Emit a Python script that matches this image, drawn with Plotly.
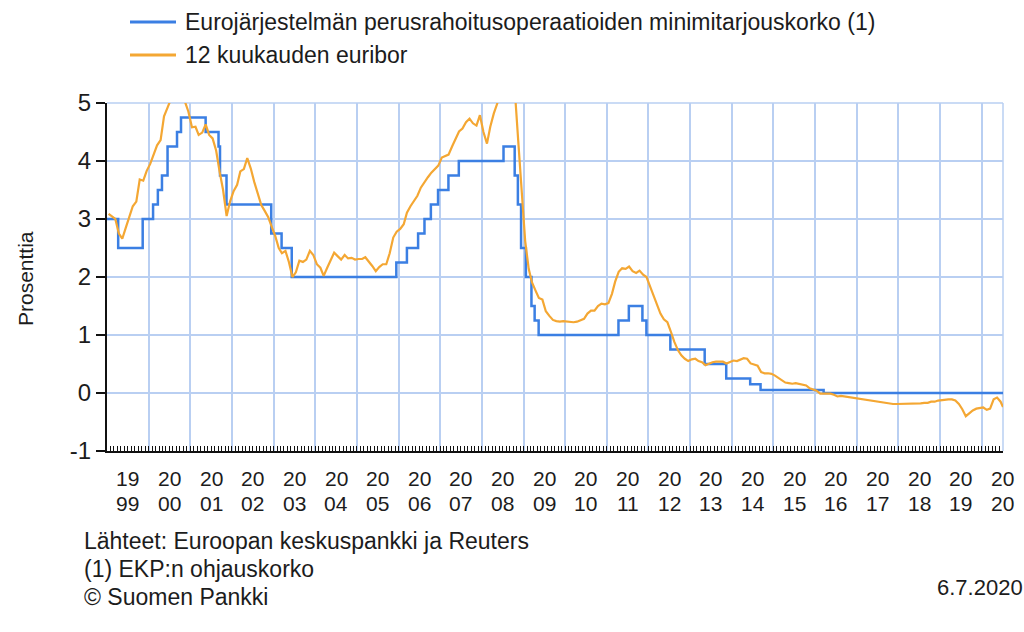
import plotly.graph_objects as go

# ---------------- data ----------------
rate_dates = ["1999-01-01", "1999-04-09", "1999-11-10", "2000-02-09", "2000-03-22", "2000-04-27",
              "2000-06-15", "2000-09-06", "2000-10-11", "2001-05-15", "2001-09-05", "2001-09-18",
              "2001-11-14", "2002-12-11", "2003-03-12", "2003-06-09", "2005-12-12", "2006-03-15",
              "2006-06-21", "2006-08-16", "2006-10-11", "2006-12-13", "2007-03-14", "2007-06-13",
              "2008-07-09", "2008-10-15", "2008-11-12", "2008-12-10", "2009-01-21", "2009-03-11",
              "2009-04-08", "2009-05-13", "2011-04-13", "2011-07-13", "2011-11-09", "2011-12-14",
              "2012-07-11", "2013-05-08", "2013-11-13", "2014-06-11", "2014-09-10", "2016-03-16",
              "2020-07-06"]
rate_values = [3.0, 2.5, 3.0, 3.25, 3.5, 3.75,
               4.25, 4.5, 4.75, 4.5, 4.25, 3.75,
               3.25, 2.75, 2.5, 2.0, 2.25, 2.5,
               2.75, 3.0, 3.25, 3.5, 3.75, 4.0,
               4.25, 3.75, 3.25, 2.5, 2.0, 1.5,
               1.25, 1.0, 1.25, 1.5, 1.25, 1.0,
               0.75, 0.5, 0.25, 0.15, 0.05, 0.0,
               0.0]

# 12-month Euribor, monthly readings (mid-month), Jan 1999 .. Jun 2020, plus last day
euribor_values = [
    3.09, 3.05, 3.00, 2.75, 2.66, 2.85, 3.03, 3.22, 3.30, 3.68, 3.66, 3.83,        # 1999
    3.95, 4.11, 4.27, 4.36, 4.77, 4.92, 5.08, 5.22, 5.22, 5.10, 5.02, 4.85,        # 2000
    4.58, 4.59, 4.45, 4.49, 4.63, 4.45, 4.39, 4.18, 3.81, 3.50, 3.05, 3.30,        # 2001
    3.48, 3.59, 3.82, 3.86, 4.05, 3.87, 3.64, 3.44, 3.24, 3.14, 3.03, 2.87,        # 2002
    2.71, 2.50, 2.41, 2.45, 2.26, 2.00, 2.08, 2.28, 2.26, 2.30, 2.45, 2.38,        # 2003
    2.22, 2.16, 2.02, 2.16, 2.30, 2.42, 2.36, 2.30, 2.38, 2.32, 2.33, 2.30,        # 2004
    2.31, 2.31, 2.34, 2.27, 2.19, 2.10, 2.17, 2.22, 2.22, 2.41, 2.68, 2.78,        # 2005
    2.83, 2.91, 3.11, 3.22, 3.31, 3.40, 3.54, 3.62, 3.72, 3.80, 3.86, 3.92,        # 2006
    4.06, 4.09, 4.11, 4.25, 4.37, 4.51, 4.56, 4.67, 4.73, 4.65, 4.61, 4.79,        # 2007
    4.50, 4.30, 4.59, 4.82, 4.99, 5.36, 5.39, 5.32, 5.38, 5.25, 4.35, 3.45,        # 2008
    2.62, 2.14, 1.91, 1.77, 1.64, 1.61, 1.41, 1.33, 1.26, 1.24, 1.23, 1.24,        # 2009
    1.23, 1.23, 1.22, 1.23, 1.25, 1.28, 1.37, 1.42, 1.42, 1.50, 1.54, 1.53,        # 2010
    1.55, 1.71, 1.92, 2.09, 2.15, 2.14, 2.18, 2.10, 2.07, 2.11, 2.04, 2.00,        # 2011
    1.84, 1.68, 1.50, 1.37, 1.27, 1.22, 1.06, 0.88, 0.74, 0.65, 0.59, 0.55,        # 2012
    0.58, 0.59, 0.55, 0.53, 0.48, 0.51, 0.53, 0.54, 0.54, 0.54, 0.51, 0.54,        # 2013
    0.56, 0.55, 0.58, 0.60, 0.59, 0.51, 0.49, 0.47, 0.36, 0.34, 0.34, 0.33,        # 2014
    0.30, 0.26, 0.21, 0.18, 0.17, 0.16, 0.17, 0.16, 0.15, 0.13, 0.08, 0.06,        # 2015
    0.04, -0.01, -0.01, -0.01, -0.01, -0.03, -0.06, -0.05, -0.06, -0.07, -0.07, -0.08,  # 2016
    -0.10, -0.11, -0.11, -0.12, -0.13, -0.15, -0.15, -0.16, -0.17, -0.18, -0.19, -0.19,  # 2017
    -0.19, -0.19, -0.19, -0.19, -0.19, -0.18, -0.18, -0.17, -0.17, -0.15, -0.15, -0.13,  # 2018
    -0.12, -0.11, -0.11, -0.11, -0.13, -0.19, -0.28, -0.40, -0.34, -0.30, -0.27, -0.26,  # 2019
    -0.25, -0.29, -0.27, -0.11, -0.08, -0.15,                                         # 2020
    -0.24,
]
euribor_dates = [f"{1999 + i // 12}-{i % 12 + 1:02d}-15" for i in range(len(euribor_values) - 1)] + ["2020-07-06"]

years = list(range(1999, 2021))
y_ticks = [-1, 0, 1, 2, 3, 4, 5]

series_names = ["Eurojärjestelmän perusrahoitusoperaatioiden minimitarjouskorko (1)",
                "12 kuukauden euribor"]
y_title = "Prosenttia"
footer_lines = ["Lähteet: Euroopan keskuspankki ja Reuters",
                "(1) EKP:n ohjauskorko",
                "© Suomen Pankki"]
date_stamp = "6.7.2020"

# ---------------- style ----------------
BLUE = "#3b7fe3"
ORANGE = "#f4a733"
GRID = "#b9cff2"
FONT = "Arial, Liberation Sans, sans-serif"
TXT = "#1c1c1c"

W, H = 1024, 632
L, R, T, B = 107, 1003, 103, 451
PW, PH = R - L, B - T


def xp(px):
    return (px - L) / PW


def yp(py):
    return (B - py) / PH


fig = go.Figure()
fig.add_trace(go.Scatter(x=rate_dates, y=rate_values, mode="lines", line_shape="hv",
                         line=dict(color=BLUE, width=2.5), name=series_names[0], showlegend=False))
fig.add_trace(go.Scatter(x=euribor_dates, y=euribor_values, mode="lines",
                         line=dict(color=ORANGE, width=2.2), name=series_names[1], showlegend=False))

annotations = []
shapes = []

# legend (drawn manually)
for i, (name, col) in enumerate(zip(series_names, [BLUE, ORANGE])):
    ypix = 22 + 33 * i
    shapes.append(dict(type="line", xref="paper", yref="paper", x0=xp(130), x1=xp(176),
                       y0=yp(ypix), y1=yp(ypix), line=dict(color=col, width=3)))
    annotations.append(dict(xref="paper", yref="paper", x=xp(183), y=yp(ypix), xanchor="left",
                            yanchor="middle", text=name, showarrow=False,
                            font=dict(family=FONT, size=23, color=TXT)))

# x tick labels centred in each year, two lines
for yr in years:
    s = str(yr)
    for part, ypix in ((s[:2], 478), (s[2:], 503)):
        annotations.append(dict(xref="x", yref="paper", x=f"{yr}-07-02", y=yp(ypix),
                                yanchor="middle", xanchor="center", text=part,
                                showarrow=False, font=dict(family=FONT, size=21, color=TXT)))

# y title
annotations.append(dict(xref="paper", yref="paper", x=xp(25), y=yp(279), text=y_title,
                        textangle=-90, showarrow=False, xanchor="center", yanchor="middle",
                        font=dict(family=FONT, size=21, color=TXT)))

# footer
for i, line in enumerate(footer_lines):
    annotations.append(dict(xref="paper", yref="paper", x=xp(82), y=yp(541 + 28 * i), text=line,
                            xanchor="left", yanchor="middle", showarrow=False,
                            font=dict(family=FONT, size=23, color=TXT)))
annotations.append(dict(xref="paper", yref="paper", x=xp(935), y=yp(587), text=date_stamp,
                        xanchor="left", yanchor="middle", showarrow=False,
                        font=dict(family=FONT, size=22, color=TXT)))

# right & top border in grid colour
shapes.append(dict(type="line", xref="paper", yref="paper", x0=1, x1=1, y0=0, y1=1,
                   line=dict(color=GRID, width=1.5), layer="below"))
shapes.append(dict(type="line", xref="paper", yref="paper", x0=0, x1=1, y0=1, y1=1,
                   line=dict(color=GRID, width=1.5), layer="below"))

fig.update_layout(
    width=W, height=H,
    margin=dict(l=L, r=W - R, t=T, b=H - B, pad=0),
    paper_bgcolor="white", plot_bgcolor="white",
    font=dict(family=FONT, color=TXT),
    annotations=annotations, shapes=shapes,
    xaxis=dict(type="date", range=["1999-01-01", "2020-07-06"], tickmode="linear",
               tick0="1999-01-01", dtick="M12", showticklabels=False,
               showgrid=True, gridcolor=GRID, gridwidth=1.5,
               ticks="inside", ticklen=5, tickcolor="#111", tickwidth=1,
               minor=dict(dtick="M1", tick0="1999-01-01", ticks="inside", ticklen=5,
                          tickcolor="#111", tickwidth=1, showgrid=False),
               showline=True, linecolor="#111", linewidth=2, zeroline=False),
    yaxis=dict(range=[-1, 5], tickmode="array", tickvals=y_ticks,
               ticktext=[str(v) for v in y_ticks],
               showgrid=True, gridcolor=GRID, gridwidth=1.5,
               ticks="outside", ticklen=9, tickwidth=2, tickcolor="#111",
               showline=True, linecolor="#111", linewidth=2, zeroline=False,
               tickfont=dict(family=FONT, size=24, color=TXT)),
)

fig.write_html("out.html")
